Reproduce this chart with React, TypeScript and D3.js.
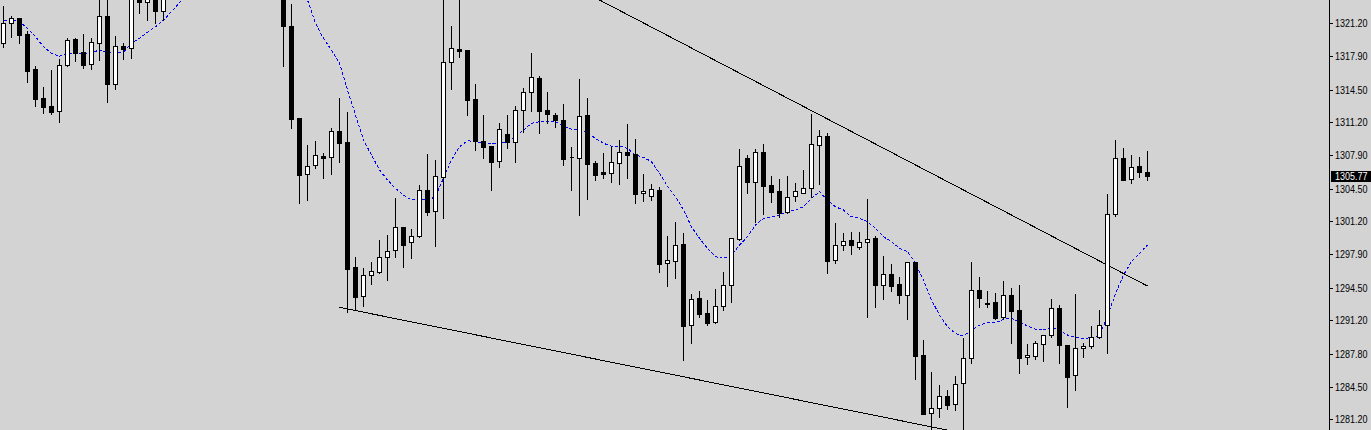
import React from "react";
import * as d3 from "d3";

const opens = [1319.18,1321.20,1321.70,1320.12,1316.58,1313.65,1312.84,1312.31,1316.95,1319.58,1318.27,1317.06,1319.24,1321.93,1315.04,1318.90,1318.67,1325.6,1323.38,1325.5,1322.47,1326.4,1327.9,1329.6,1328.8,1331.7,1332.9,1331.8,1330.7,1332.1,1333.2,1331.4,1329.3,1330.2,1328.0,1326.1,1320.92,1311.63,1305.94,1306.85,1307.79,1307.66,1310.32,1309.21,1296.58,1293.62,1295.74,1296.11,1297.56,1298.27,1300.62,1299.07,1299.68,1304.33,1302.21,1305.70,1317.26,1318.57,1318.50,1313.55,1309.28,1308.80,1307.26,1309.98,1309.18,1312.41,1314.23,1315.64,1312.41,1311.90,1311.43,1307.70,1307.56,1311.90,1307.09,1306.18,1306.05,1307.12,1308.20,1307.99,1304.03,1303.72,1304.36,1296.95,1297.16,1298.90,1290.69,1293.42,1291.93,1290.99,1292.61,1294.79,1299.41,1307.59,1305.20,1308.20,1304.83,1304.26,1302.11,1303.72,1304.09,1304.53,1308.87,1309.81,1297.26,1298.77,1299.31,1298.63,1299.07,1299.51,1294.73,1295.84,1294.83,1293.72,1297.06,1287.66,1281.80,1282.31,1283.52,1282.71,1284.83,1287.36,1294.26,1292.90,1293.01,1291.53,1293.75,1292.24,1287.46,1287.56,1288.83,1289.68,1292.41,1288.70,1285.64,1288.37,1288.57,1289.48,1290.72,1301.90,1307.56,1305.44,1306.75,1306.15];
const highs = [1323.05,1322.03,1321.86,1320.52,1316.98,1314.86,1316.58,1317.66,1319.78,1319.78,1320.22,1319.78,1324.6,1324.8,1320.01,1319.28,1325.0,1326.2,1326.0,1326.3,1327.0,1328.5,1330.2,1331.0,1332.4,1333.5,1334.1,1333.0,1332.6,1333.8,1334.0,1332.2,1330.8,1331.1,1328.9,1326.8,1323.22,1311.70,1309.00,1309.41,1308.20,1310.75,1313.75,1312.34,1297.69,1296.58,1297.19,1299.41,1299.91,1303.65,1300.72,1300.52,1304.96,1308.10,1307.49,1324.5,1321.03,1324.3,1318.55,1315.17,1312.03,1308.85,1311.23,1312.03,1312.94,1314.76,1318.30,1315.97,1314.36,1312.24,1313.15,1308.83,1315.67,1313.75,1307.39,1308.20,1308.80,1309.48,1311.13,1309.64,1306.08,1305.07,1304.73,1299.81,1301.26,1300.12,1293.95,1294.26,1293.38,1294.49,1296.18,1299.52,1308.63,1307.99,1308.60,1309.11,1305.87,1305.54,1305.90,1305.17,1306.48,1312.14,1310.52,1310.22,1301.13,1300.12,1300.22,1300.22,1303.55,1299.81,1297.79,1296.95,1295.67,1297.10,1297.16,1289.28,1286.08,1284.76,1284.26,1285.67,1289.48,1297.19,1295.70,1294.26,1294.03,1295.27,1294.53,1294.86,1288.87,1289.21,1289.75,1293.42,1292.84,1288.75,1293.92,1289.04,1290.72,1292.34,1304.03,1309.51,1308.70,1307.99,1307.79,1308.40];
const lows = [1318.83,1319.84,1319.24,1315.30,1312.84,1312.17,1312.03,1311.26,1316.90,1317.42,1316.71,1316.58,1317.49,1313.28,1314.56,1317.59,1317.72,1322.21,1321.53,1321.26,1321.53,1325.6,1327.1,1328.2,1328.3,1330.6,1331.2,1330.1,1329.9,1331.4,1330.9,1328.7,1328.1,1327.4,1325.2,1316.91,1310.65,1303.08,1303.35,1306.61,1305.60,1306.00,1307.22,1292.07,1292.34,1292.67,1294.89,1296.00,1295.30,1297.62,1296.61,1297.52,1299.62,1301.86,1298.73,1301.56,1314.59,1317.76,1311.93,1308.43,1307.62,1304.36,1306.71,1308.63,1307.22,1310.25,1312.37,1310.15,1311.16,1310.75,1306.91,1304.36,1301.86,1303.45,1305.37,1305.60,1305.20,1304.99,1305.60,1303.02,1303.28,1303.38,1296.11,1294.69,1295.50,1287.22,1288.93,1291.56,1290.75,1290.95,1292.27,1293.08,1299.31,1304.09,1301.13,1301.96,1303.12,1301.60,1302.07,1303.28,1304.03,1303.62,1304.99,1296.00,1297.02,1298.30,1297.89,1298.43,1291.56,1292.57,1293.38,1294.19,1292.97,1291.36,1285.30,1281.70,1279.80,1281.40,1282.24,1282.17,1279.50,1286.85,1292.57,1292.51,1291.30,1291.30,1288.93,1285.90,1286.81,1287.32,1287.12,1289.54,1286.91,1282.41,1284.19,1287.52,1288.37,1289.45,1287.92,1301.76,1305.35,1305.04,1305.70,1305.37];
const closes = [1321.20,1321.70,1320.05,1316.41,1313.58,1312.77,1312.27,1316.95,1319.51,1318.23,1317.01,1319.28,1321.93,1315.10,1318.87,1318.63,1324.2,1323.38,1325.3,1322.47,1326.4,1327.9,1329.6,1328.8,1331.7,1332.9,1331.8,1330.7,1332.1,1333.2,1331.4,1329.3,1330.2,1328.0,1326.1,1320.95,1311.56,1305.90,1306.75,1307.86,1307.62,1310.29,1309.14,1296.41,1293.58,1295.74,1296.15,1297.59,1298.17,1300.59,1298.83,1299.68,1304.33,1302.17,1305.74,1317.29,1318.67,1318.43,1313.48,1309.28,1308.73,1307.22,1310.49,1309.24,1312.41,1314.23,1315.74,1312.37,1312.00,1311.40,1307.52,1307.72,1311.80,1307.02,1305.90,1306.00,1307.16,1308.17,1307.92,1303.98,1304.23,1304.43,1296.91,1297.26,1298.77,1290.65,1293.32,1291.86,1290.95,1292.64,1294.73,1299.48,1306.78,1305.20,1308.17,1304.79,1304.19,1302.07,1303.62,1304.23,1304.53,1308.97,1309.81,1297.22,1298.77,1299.18,1298.77,1299.07,1299.38,1294.79,1295.84,1294.63,1293.72,1297.06,1287.62,1281.76,1282.31,1283.58,1282.67,1284.73,1287.36,1294.23,1293.42,1292.88,1291.46,1293.72,1292.17,1287.42,1287.66,1288.87,1289.71,1292.41,1288.73,1285.50,1288.37,1288.57,1289.48,1290.69,1301.90,1307.56,1305.40,1306.65,1306.15,1305.77];
const maValues = [1321.46,1321.46,1321.43,1320.65,1319.84,1318.83,1318.17,1317.89,1318.10,1318.10,1318.10,1318.23,1318.50,1318.27,1318.30,1318.30,1319.18,1319.68,1320.29,1320.85,1321.53,1322.37,1323.28,1324.1,1324.9,1325.7,1326.4,1327.0,1327.5,1327.9,1328.2,1328.4,1328.4,1328.3,1328.0,1327.4,1326.4,1325.1,1323.55,1321.20,1319.68,1318.50,1317.16,1314.46,1311.93,1309.41,1307.89,1306.38,1305.37,1304.53,1303.85,1303.35,1303.42,1303.35,1303.68,1305.57,1307.39,1308.73,1309.34,1309.24,1309.14,1309.00,1309.14,1309.24,1309.74,1310.42,1311.10,1311.26,1311.26,1311.26,1310.82,1310.49,1310.49,1310.09,1309.58,1309.08,1308.80,1308.80,1308.57,1307.89,1307.66,1307.22,1306.05,1304.76,1303.68,1302.34,1300.65,1299.48,1298.47,1297.62,1297.46,1297.79,1298.80,1299.64,1300.82,1301.50,1301.66,1301.83,1302.17,1302.34,1302.67,1303.52,1304.19,1303.35,1302.67,1302.34,1301.66,1301.50,1301.16,1300.49,1299.64,1299.14,1298.47,1298.13,1296.95,1295.27,1293.25,1291.73,1290.55,1289.88,1289.61,1290.22,1290.72,1290.95,1290.95,1291.30,1291.40,1291.06,1290.62,1290.29,1290.22,1290.45,1290.22,1289.71,1289.48,1289.38,1289.44,1289.71,1291.56,1293.92,1295.77,1297.12,1297.96,1298.80];

const tickLabels = ["1321.20","1317.90","1314.50","1311.20","1307.90","1304.50","1301.20","1297.90","1294.50","1291.20","1287.80","1284.50","1281.20"];
const currentPrice = 1305.77;

// trend lines: [index, price] endpoints
const upperTrendIdx = [60, 143];
const upperTrendPrice = [1329.67, 1294.66];
const lowerTrendIdx = [42, 118];
const lowerTrendPrice = [1292.51, 1280.11];

const W = 1371;
const H = 430;
const AXIS_X = 1329;

export default function App() {
  const x = d3.scaleLinear().domain([0, 143]).range([3.5, 3.5 + 8 * 143]);
  const y = d3.scaleLinear().domain([1281.2, 1321.2]).range([419.3, 23.3]);
  const py = (v: number) => Math.round(y(v)) + 0.5;

  const maLine = d3
    .line<number>()
    .x((_, i) => x(i))
    .y((d) => y(d));

  const candles = opens.map((o, i) => {
    const c = closes[i];
    const cx = x(i);
    const top = py(Math.max(o, c));
    const bot = py(Math.min(o, c));
    const bull = c >= o;
    const body = `M${cx - 2},${top}H${cx + 2}V${bot}H${cx - 2}Z`;
    return (
      <g key={i}>
        <line x1={cx} x2={cx} y1={py(highs[i])} y2={py(lows[i])} stroke="#000" strokeWidth={1} />
        <path d={body} fill={bull ? "#fff" : "#000"} stroke="#000" strokeWidth={1} />
      </g>
    );
  });

  const cpY = y(currentPrice);

  return (
    <svg
      width={W}
      height={H}
      style={{ position: "absolute", left: 0, top: 0, display: "block" }}
      shapeRendering="crispEdges"
    >
      <defs>
        <clipPath id="plot">
          <rect x={0} y={0} width={AXIS_X} height={H} />
        </clipPath>
      </defs>
      <rect x={0} y={0} width={W} height={H} fill="#d3d3d3" />
      <g clipPath="url(#plot)">
        <path
          d={maLine(maValues) || ""}
          fill="none"
          stroke="#0000ff"
          strokeWidth={1}
          strokeDasharray="3,2"
        />
        <line
          x1={x(upperTrendIdx[0])}
          y1={y(upperTrendPrice[0])}
          x2={x(upperTrendIdx[1])}
          y2={y(upperTrendPrice[1])}
          stroke="#000"
          strokeWidth={1}
        />
        <line
          x1={x(lowerTrendIdx[0])}
          y1={y(lowerTrendPrice[0])}
          x2={x(lowerTrendIdx[1])}
          y2={y(lowerTrendPrice[1])}
          stroke="#000"
          strokeWidth={1}
        />
        {candles}
      </g>
      <line x1={AXIS_X + 0.5} x2={AXIS_X + 0.5} y1={0} y2={H} stroke="#000" strokeWidth={1} />
      {tickLabels.map((t) => {
        const ty = py(parseFloat(t));
        return (
          <g key={t}>
            <line x1={AXIS_X + 1} x2={AXIS_X + 4} y1={ty} y2={ty} stroke="#000" strokeWidth={1} />
            <text
              x={1335}
              y={ty + 3.7}
              fontFamily="'Liberation Sans', Arial, sans-serif"
              fontSize={10}
              fill="#000"
              textLength={32.5}
              lengthAdjust="spacingAndGlyphs"
            >
              {t}
            </text>
          </g>
        );
      })}
      <rect x={1331} y={Math.round(cpY) - 5} width={40} height={11} fill="#000" />
      <text
        x={1335}
        y={Math.round(cpY) + 4}
        fontFamily="'Liberation Sans', Arial, sans-serif"
        fontSize={10}
        fill="#fff"
        textLength={32.5}
        lengthAdjust="spacingAndGlyphs"
      >
        {currentPrice.toFixed(2)}
      </text>
    </svg>
  );
}
